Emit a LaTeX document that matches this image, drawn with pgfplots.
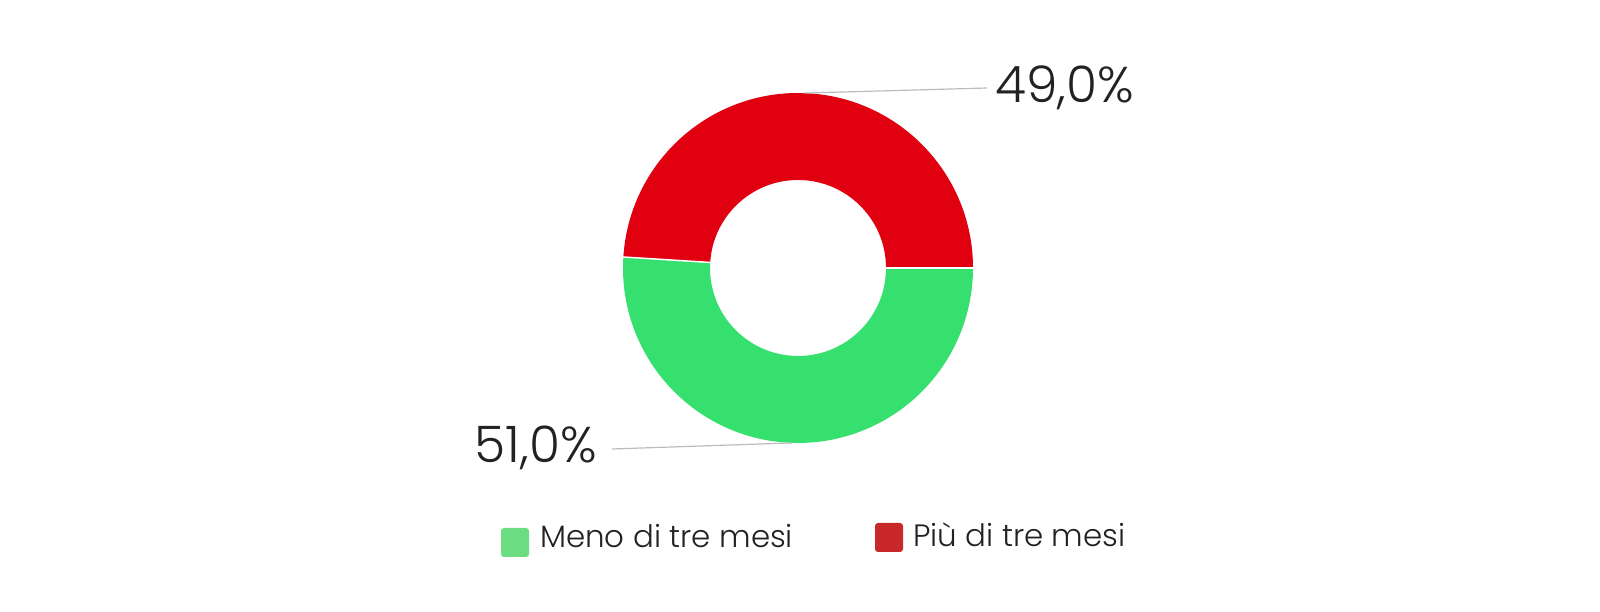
\documentclass[border=0pt]{standalone}
\usepackage{pgfplots}
\pgfplotsset{compat=1.18}
\usepackage{pgfplotstable}
\usepackage{fontspec}
\setmainfont{Poppins}[UprightFont={* Light}]

\definecolor{sliceGreen}{HTML}{36E06E}
\definecolor{sliceRed}{HTML}{E0000F}
\definecolor{keyGreen}{HTML}{6CDC80}
\definecolor{keyRed}{HTML}{C8282A}
\definecolor{leader}{HTML}{B8BCC0}
\definecolor{txt}{HTML}{222222}

% share of answers, in percent
\pgfplotstableread{
label share
Piu  49.0
Meno 51.0
}\shares

\begin{document}
\begin{tikzpicture}
\pgfplotstablegetelem{0}{share}\of\shares \let\redval\pgfplotsretval
\pgfplotstablegetelem{1}{share}\of\shares \let\greenval\pgfplotsretval
\pgfmathsetmacro{\redend}{3.6*\redval}
\pgfmathsetmacro{\redmid}{\redend/2}
\pgfmathsetmacro{\greenmid}{\redend+1.8*\greenval}
\begin{axis}[
    at={(0,0)}, anchor=south west,
    width=1600bp, height=612bp, scale only axis,
    xmin=0, xmax=1600, ymin=0, ymax=612,
    hide axis, clip=false,
]
\coordinate (c) at (axis cs:798,344);
% donut slices
\fill[sliceRed] ([shift={(0:175bp)}]c) arc[start angle=0, end angle=\redend, radius=175bp]
    -- ([shift={(\redend:88bp)}]c) arc[start angle=\redend, end angle=0, radius=88bp] -- cycle;
\fill[sliceGreen] ([shift={(\redend:175bp)}]c) arc[start angle=\redend, end angle=360, radius=175bp]
    -- ([shift={(360:88bp)}]c) arc[start angle=360, end angle=\redend, radius=88bp] -- cycle;
\draw[white, line width=1.5bp] ([shift={(0:87bp)}]c) -- ([shift={(0:176bp)}]c);
\draw[white, line width=1.5bp] ([shift={(\redend:87bp)}]c) -- ([shift={(\redend:176bp)}]c);
% leader lines and value labels
\draw[leader, line width=1.2bp] ([shift={(\redmid:175bp)}]c) -- (axis cs:987,524);
\node[anchor=base west, inner sep=0pt, text=txt, font=\fontsize{50.5}{54}\selectfont]
    at (axis cs:995,509) {49,0\%};
\draw[leader, line width=1.2bp] ([shift={(\greenmid:175bp)}]c) -- (axis cs:612,163);
\node[anchor=base east, inner sep=0pt, text=txt, font=\fontsize{50.5}{54}\selectfont]
    at (axis cs:597,149) {51,0\%};
% legend
\fill[keyGreen, rounded corners=3bp] (axis cs:501,55) rectangle (axis cs:529,84);
\node[anchor=base west, inner sep=0pt, text=txt, font=\fontsize{31}{35}\selectfont]
    at (axis cs:540,64) {Meno di tre mesi};
\fill[keyRed, rounded corners=3bp] (axis cs:875,60) rectangle (axis cs:903,89);
\node[anchor=base west, inner sep=0pt, text=txt, font=\fontsize{31}{35}\selectfont]
    at (axis cs:913,65) {Più di tre mesi};
\end{axis}
\pgfresetboundingbox
\path (0,0) rectangle (1600bp,612bp);
\end{tikzpicture}
\end{document}
